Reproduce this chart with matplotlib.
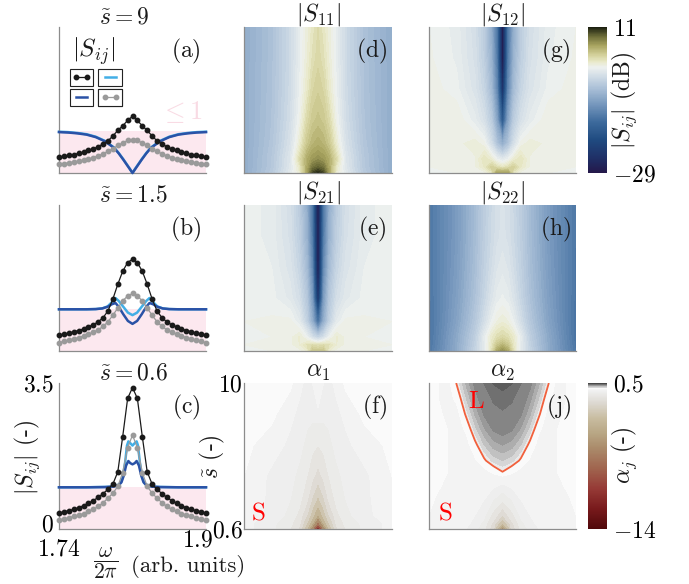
import numpy as np
import matplotlib
matplotlib.use('Agg')
import matplotlib.pyplot as plt
from matplotlib.colors import LinearSegmentedColormap, Normalize
from matplotlib.lines import Line2D
from matplotlib.transforms import ScaledTranslation
import matplotlib.cm as cm

# ---------------- data ----------------
OMEGA_PTS = [1.7400, 1.7453, 1.7507, 1.7560, 1.7613, 1.7667, 1.7720, 1.7773, 1.7827, 1.7880,
             1.7933, 1.7987, 1.8040, 1.8093, 1.8147, 1.8200, 1.8253, 1.8307, 1.8360, 1.8413,
             1.8467, 1.8520, 1.8573, 1.8627, 1.8680, 1.8733, 1.8787, 1.8840, 1.8893, 1.8947, 1.9000]

S11_A = [0.38, 0.40, 0.42, 0.44, 0.47, 0.50, 0.54, 0.58, 0.63, 0.70, 0.77, 0.89, 1.02, 1.13, 1.26, 1.36,
         1.26, 1.13, 1.02, 0.89, 0.77, 0.70, 0.63, 0.58, 0.54, 0.50, 0.47, 0.44, 0.42, 0.40, 0.38]
S22_A = [0.21, 0.225, 0.245, 0.265, 0.285, 0.31, 0.33, 0.37, 0.41, 0.46, 0.52, 0.58, 0.66, 0.72, 0.78, 0.80,
         0.78, 0.72, 0.66, 0.58, 0.52, 0.46, 0.41, 0.37, 0.33, 0.31, 0.285, 0.265, 0.245, 0.225, 0.21]
S11_B = [0.38, 0.40, 0.43, 0.46, 0.49, 0.53, 0.58, 0.63, 0.70, 0.80, 0.96, 1.25, 1.60, 1.91, 2.12, 2.20,
         2.12, 1.91, 1.60, 1.25, 0.96, 0.80, 0.70, 0.63, 0.58, 0.53, 0.49, 0.46, 0.43, 0.40, 0.38]
S22_B = [0.20, 0.23, 0.26, 0.29, 0.32, 0.36, 0.40, 0.45, 0.51, 0.59, 0.70, 0.86, 1.03, 1.20, 1.32, 1.38,
         1.32, 1.20, 1.03, 0.86, 0.70, 0.59, 0.51, 0.45, 0.40, 0.36, 0.32, 0.29, 0.26, 0.23, 0.20]
S11_C = [0.38, 0.41, 0.44, 0.47, 0.51, 0.56, 0.62, 0.68, 0.76, 0.85, 0.95, 1.08, 1.37, 2.21, 3.13, 3.39,
         3.13, 2.21, 1.37, 1.08, 0.95, 0.85, 0.76, 0.68, 0.62, 0.56, 0.51, 0.47, 0.44, 0.41, 0.38]
S22_C = [0.21, 0.24, 0.27, 0.30, 0.33, 0.37, 0.42, 0.47, 0.54, 0.63, 0.74, 0.86, 1.02, 1.35, 1.95, 2.25,
         1.95, 1.35, 1.02, 0.86, 0.74, 0.63, 0.54, 0.47, 0.42, 0.37, 0.33, 0.30, 0.27, 0.24, 0.21]

OMEGA_BLUE_A = [1.74, 1.75, 1.76, 1.77, 1.78, 1.79, 1.80, 1.805, 1.81, 1.815, 1.8175, 1.82,
                1.8225, 1.825, 1.83, 1.835, 1.84, 1.85, 1.86, 1.87, 1.88, 1.89, 1.90]
S21_A = [0.98, 0.97, 0.95, 0.92, 0.86, 0.76, 0.60, 0.47, 0.32, 0.16, 0.08, 0.0,
         0.08, 0.16, 0.32, 0.47, 0.60, 0.76, 0.86, 0.92, 0.95, 0.97, 0.98]
S12_A = [0.99, 0.98, 0.96, 0.93, 0.87, 0.77, 0.61, 0.48, 0.33, 0.17, 0.09, 0.0,
         0.09, 0.17, 0.33, 0.48, 0.61, 0.77, 0.87, 0.93, 0.96, 0.98, 0.99]

OMEGA_BLUE_B = [1.74, 1.755, 1.77, 1.78, 1.787, 1.793, 1.7975, 1.8015, 1.805, 1.81, 1.815, 1.82,
                1.825, 1.83, 1.835, 1.8385, 1.8425, 1.847, 1.853, 1.86, 1.87, 1.885, 1.90]
S21_B = [1.0, 1.0, 1.0, 1.005, 1.02, 1.06, 1.12, 1.15, 1.06, 0.88, 0.72, 0.65,
         0.72, 0.88, 1.06, 1.15, 1.12, 1.06, 1.02, 1.005, 1.0, 1.0, 1.0]
S12_B = [1.0, 1.0, 1.0, 1.005, 1.02, 1.07, 1.17, 1.27, 1.20, 1.06, 0.92, 0.86,
         0.92, 1.06, 1.20, 1.27, 1.17, 1.07, 1.02, 1.005, 1.0, 1.0, 1.0]

OMEGA_S21_C = [1.74, 1.77, 1.79, 1.80, 1.805, 1.808, 1.8105, 1.813, 1.8155, 1.8175, 1.82,
               1.8225, 1.8245, 1.827, 1.8295, 1.832, 1.835, 1.84, 1.85, 1.87, 1.90]
S21_C = [1.0, 1.0, 1.005, 1.02, 1.05, 1.12, 1.28, 1.52, 1.63, 1.58, 1.55,
         1.58, 1.63, 1.52, 1.28, 1.12, 1.05, 1.02, 1.005, 1.0, 1.0]
OMEGA_S12_C = [1.74, 1.77, 1.795, 1.803, 1.807, 1.8095, 1.812, 1.814, 1.8155, 1.8175, 1.82,
               1.8225, 1.8245, 1.826, 1.828, 1.8305, 1.833, 1.837, 1.845, 1.87, 1.90]
S12_C = [1.0, 1.0, 1.01, 1.04, 1.10, 1.25, 1.6, 2.0, 2.1, 2.06, 2.0,
         2.06, 2.1, 2.0, 1.6, 1.25, 1.10, 1.04, 1.01, 1.0, 1.0]

# heat-map grids (dB), rows = s~ values, columns = omega values
OMEGA_MAP = [1.74, 1.77, 1.79, 1.80, 1.808, 1.814, 1.82, 1.826, 1.832, 1.84, 1.85, 1.87, 1.90]
S_MAP = [0.6, 1.0, 1.5, 2.5, 4.0, 6.0, 8.0, 10.0]

S11_DB = [
    [-8.0, -4.7, -1.1, 1.0, 5.6, 9.6, 10.6, 9.6, 5.6, 1.0, -1.1, -4.7, -8.0],
    [-8.0, -5.0, -1.4, 1.5, 5.5, 7.8, 8.6, 7.8, 5.5, 1.5, -1.4, -5.0, -8.0],
    [-8.0, -5.0, -1.5, 2.5, 5.3, 6.4, 6.8, 6.4, 5.3, 2.5, -1.5, -5.0, -8.0],
    [-8.0, -5.3, -2.0, 1.0, 3.8, 4.9, 5.3, 4.9, 3.8, 1.0, -2.0, -5.3, -8.0],
    [-8.0, -5.5, -2.5, 0.0, 2.6, 3.8, 4.2, 3.8, 2.6, 0.0, -2.5, -5.5, -8.0],
    [-8.0, -5.6, -2.8, -0.5, 1.4, 2.9, 3.4, 2.9, 1.4, -0.5, -2.8, -5.6, -8.0],
    [-8.0, -5.7, -2.9, -0.7, 0.9, 2.1, 2.8, 2.1, 0.9, -0.7, -2.9, -5.7, -8.0],
    [-8.0, -5.7, -2.9, -0.7, 0.7, 1.7, 2.5, 1.7, 0.7, -0.7, -2.9, -5.7, -8.0],
]
S12_DB = [
    [0.0, 0.0, 0.05, 0.2, 1.6, 6.0, 6.0, 6.0, 1.6, 0.2, 0.05, 0.0, 0.0],
    [0.0, 0.05, 0.4, 1.5, 3.2, 2.2, 1.6, 2.2, 3.2, 1.5, 0.4, 0.05, 0.0],
    [0.0, 0.1, 0.4, 1.9, 1.0, -0.5, -1.3, -0.5, 1.0, 1.9, 0.4, 0.1, 0.0],
    [0.0, 0.3, 0.8, 0.2, -2.5, -5.5, -8.0, -5.5, -2.5, 0.2, 0.8, 0.3, 0.0],
    [0.1, 0.5, -0.8, -2.2, -4.5, -9.0, -18.0, -9.0, -4.5, -2.2, -0.8, 0.5, 0.1],
    [0.3, -0.3, -1.8, -3.5, -6.5, -12.0, -25.0, -12.0, -6.5, -3.5, -1.8, -0.3, 0.3],
    [0.1, -0.6, -2.2, -4.2, -7.5, -13.5, -29.0, -13.5, -7.5, -4.2, -2.2, -0.6, 0.1],
    [0.0, -0.7, -2.4, -4.4, -8.0, -14.0, -29.0, -14.0, -8.0, -4.4, -2.4, -0.7, 0.0],
]
S21_DB = [
    [0.0, 0.0, 0.05, 0.2, 1.0, 4.0, 3.8, 4.0, 1.0, 0.2, 0.05, 0.0, 0.0],
    [0.0, 0.05, 0.3, 1.0, 2.0, 2.5, 2.0, 2.5, 2.0, 1.0, 0.3, 0.05, 0.0],
    [0.0, 0.0, 0.3, 1.1, -0.4, -2.5, -3.7, -2.5, -0.4, 1.1, 0.3, 0.0, 0.0],
    [0.0, 0.1, 0.2, -1.0, -4.0, -8.0, -15.0, -8.0, -4.0, -1.0, 0.2, 0.1, 0.0],
    [0.0, -0.3, -1.2, -2.5, -5.0, -10.0, -25.0, -10.0, -5.0, -2.5, -1.2, -0.3, 0.0],
    [-0.1, -0.5, -1.8, -3.5, -6.5, -12.0, -29.0, -12.0, -6.5, -3.5, -1.8, -0.5, -0.1],
    [-0.2, -0.7, -2.2, -4.2, -7.5, -13.5, -29.0, -13.5, -7.5, -4.2, -2.2, -0.7, -0.2],
    [-0.2, -0.7, -2.4, -4.4, -8.0, -14.0, -29.0, -14.0, -8.0, -4.4, -2.4, -0.7, -0.2],
]
S22_DB = [
    [-13.6, -8.2, -3.6, -1.1, 1.9, 5.6, 7.0, 5.6, 1.9, -1.1, -3.6, -8.2, -13.6],
    [-13.8, -8.3, -3.9, -1.0, 1.6, 3.8, 4.8, 3.8, 1.6, -1.0, -3.9, -8.3, -13.8],
    [-14.0, -8.4, -4.2, -0.9, 1.3, 2.3, 2.8, 2.3, 1.3, -0.9, -4.2, -8.4, -14.0],
    [-14.0, -9.0, -5.0, -2.5, -0.5, 0.5, 0.9, 0.5, -0.5, -2.5, -5.0, -9.0, -14.0],
    [-13.8, -9.4, -5.7, -3.5, -1.8, -0.8, -0.4, -0.8, -1.8, -3.5, -5.7, -9.4, -13.8],
    [-13.7, -9.7, -6.1, -4.0, -2.6, -1.6, -1.2, -1.6, -2.6, -4.0, -6.1, -9.7, -13.7],
    [-13.6, -9.9, -6.3, -4.3, -3.0, -2.2, -1.8, -2.2, -3.0, -4.3, -6.3, -9.9, -13.6],
    [-13.6, -9.9, -6.4, -4.4, -3.1, -2.3, -1.9, -2.3, -3.1, -4.4, -6.4, -9.9, -13.6],
]
ALPHA1 = [
    [-0.25, -0.4, -0.7, -1.2, -3.0, -6.5, -12.0, -6.5, -3.0, -1.2, -0.7, -0.4, -0.25],
    [-0.25, -0.4, -0.6, -1.0, -2.2, -3.8, -7.0, -3.8, -2.2, -1.0, -0.6, -0.4, -0.25],
    [-0.2, -0.35, -0.5, -0.8, -1.6, -2.6, -4.2, -2.6, -1.6, -0.8, -0.5, -0.35, -0.2],
    [-0.15, -0.35, -0.45, -0.6, -1.0, -1.7, -2.4, -1.7, -1.0, -0.6, -0.45, -0.35, -0.15],
    [-0.1, -0.35, -0.4, -0.5, -0.7, -1.0, -1.3, -1.0, -0.7, -0.5, -0.4, -0.35, -0.1],
    [-0.05, -0.2, -0.35, -0.4, -0.5, -0.6, -0.7, -0.6, -0.5, -0.4, -0.35, -0.2, -0.05],
    [-0.03, -0.05, -0.25, -0.35, -0.4, -0.4, -0.35, -0.4, -0.4, -0.35, -0.25, -0.05, -0.03],
    [-0.03, -0.03, -0.05, -0.25, -0.35, -0.3, -0.1, -0.3, -0.35, -0.25, -0.05, -0.03, -0.03],
]
OMEGA_A2 = [1.74, 1.76, 1.77, 1.78, 1.79, 1.80, 1.81, 1.82, 1.83, 1.84, 1.85, 1.86, 1.87, 1.88, 1.90]
S_A2 = [0.6, 1.0, 1.5, 2.5, 3.5, 4.25, 5.0, 6.0, 7.0, 8.0, 9.0, 10.0]
ALPHA2 = [
    [-0.1, -0.15, -0.2, -0.3, -0.4, -0.6, -1.5, -6.0, -1.5, -0.6, -0.4, -0.3, -0.2, -0.15, -0.1],
    [-0.1, -0.15, -0.2, -0.25, -0.35, -0.5, -1.2, -3.0, -1.2, -0.5, -0.35, -0.25, -0.2, -0.15, -0.1],
    [-0.1, -0.15, -0.2, -0.25, -0.3, -0.4, -0.8, -1.5, -0.8, -0.4, -0.3, -0.25, -0.2, -0.15, -0.1],
    [-0.08, -0.15, -0.18, -0.2, -0.25, -0.3, -0.45, -0.6, -0.45, -0.3, -0.25, -0.2, -0.18, -0.15, -0.08],
    [-0.05, -0.12, -0.15, -0.18, -0.2, -0.2, -0.25, -0.3, -0.25, -0.2, -0.2, -0.18, -0.15, -0.12, -0.05],
    [-0.05, -0.1, -0.15, -0.15, -0.15, -0.15, -0.08, -0.005, -0.08, -0.15, -0.15, -0.15, -0.15, -0.1, -0.05],
    [-0.05, -0.1, -0.15, -0.15, -0.12, -0.018, 0.07, 0.1, 0.07, -0.018, -0.12, -0.15, -0.15, -0.1, -0.05],
    [-0.05, -0.1, -0.15, -0.15, -0.031, 0.097, 0.174, 0.2, 0.174, 0.097, -0.031, -0.15, -0.15, -0.1, -0.05],
    [-0.05, -0.1, -0.15, -0.086, 0.074, 0.189, 0.257, 0.28, 0.257, 0.189, 0.074, -0.086, -0.15, -0.1, -0.05],
    [-0.05, -0.12, -0.15, 0.013, 0.156, 0.258, 0.32, 0.34, 0.32, 0.258, 0.156, 0.013, -0.15, -0.12, -0.05],
    [-0.05, -0.15, -0.073, 0.09, 0.217, 0.307, 0.362, 0.38, 0.362, 0.307, 0.217, 0.09, -0.073, -0.15, -0.05],
    [-0.05, -0.15, 0.007, 0.155, 0.271, 0.354, 0.403, 0.42, 0.403, 0.354, 0.271, 0.155, 0.007, -0.15, -0.05],
]

S_TITLES = [r'$\tilde{s}=9$', r'$\tilde{s}=1.5$', r'$\tilde{s}=0.6$']
DB_RANGE = (-29, 11)
ALPHA_RANGE = (-14, 0.5)

# ---------------- style ----------------
plt.rcParams['mathtext.fontset'] = 'cm'
plt.rcParams['font.family'] = ['DejaVu Serif']
plt.rcParams['axes.unicode_minus'] = False
FS = 17
BLACK = '#1a1a1a'
GRAY = '#9a9a9a'
LBLUE = '#42aee6'
DBLUE = '#2a52a6'
PINK = '#fce8ef'
SPINE = '#8c8c8c'
RM = 'cmr10'

s_cmap = LinearSegmentedColormap.from_list('sdb', [
    ((v - DB_RANGE[0]) / (DB_RANGE[1] - DB_RANGE[0]), c) for v, c in [
        (-29, '#24184a'), (-25, '#1f2f66'), (-20, '#1f4a80'), (-15, '#3d6a9c'),
        (-10, '#7899be'), (-6, '#a8bed6'), (-3, '#cbd8e4'), (0, '#eef1ef'),
        (1.5, '#e9e9c9'), (3.5, '#d2cf98'), (6, '#a8a460'), (8.5, '#6c6c38'), (11, '#1c2010')]])
a_cmap = LinearSegmentedColormap.from_list('alpha', [
    ((v - ALPHA_RANGE[0]) / (ALPHA_RANGE[1] - ALPHA_RANGE[0]), c) for v, c in [
        (-14, '#50080a'), (-12, '#781a1c'), (-10, '#963a36'), (-8, '#a0644e'),
        (-6, '#aa8a6a'), (-4.5, '#b8a684'), (-3, '#c8bca0'), (-1.5, '#dcd8d0'),
        (-0.3, '#efefef'), (0, '#fafafa'), (0.5, '#484848')]])
s_norm = Normalize(*DB_RANGE)
a_norm = Normalize(*ALPHA_RANGE)
S_LEVELS = np.linspace(DB_RANGE[0], DB_RANGE[1], 81)
A_LEVELS = [-14, -12, -10, -8, -6.5, -5, -4, -3, -2.2, -1.6, -1.1, -0.7, -0.45, -0.3, -0.1,
            0, 0.05, 0.1, 0.15, 0.2, 0.25, 0.3, 0.35, 0.4, 0.45, 0.5]

W, H = 689, 584
fig = plt.figure(figsize=(W / 100, H / 100), dpi=100)


def px_axes(x0, y0, x1, y1):
    return fig.add_axes([x0 / W, 1 - y1 / H, (x1 - x0) / W, (y1 - y0) / H])


def style(ax):
    for s in ['top', 'right']:
        ax.spines[s].set_visible(False)
    for s in ['left', 'bottom']:
        ax.spines[s].set_color(SPINE)
        ax.spines[s].set_linewidth(0.9)
    ax.tick_params(length=0, labelsize=FS)
    ax.set_xticks([])
    ax.set_yticks([])


def plabel(ax, t):
    ax.text(0.965, 0.935, r'$\mathrm{(%s)}$' % t, transform=ax.transAxes,
            ha='right', va='top', fontsize=FS, color=BLACK)


def shift(label, dx, dy):
    label.set_transform(label.get_transform() + ScaledTranslation(dx / 100, dy / 100,
                                                                  fig.dpi_scale_trans))


ROWS = [(27, 173), (205, 351), (383, 529)]
left_axes = [px_axes(59, r0, 206, r1) for r0, r1 in ROWS]
mid_axes = [px_axes(244, r0, 392, r1) for r0, r1 in ROWS]
right_axes = [px_axes(429, r0, 576, r1) for r0, r1 in ROWS]

line_data = [
    (S11_A, S22_A, OMEGA_BLUE_A, S12_A, OMEGA_BLUE_A, S21_A),
    (S11_B, S22_B, OMEGA_BLUE_B, S12_B, OMEGA_BLUE_B, S21_B),
    (S11_C, S22_C, OMEGA_S12_C, S12_C, OMEGA_S21_C, S21_C),
]
for ax, (s11, s22, x12, s12, x21, s21), ttl, lab in zip(left_axes, line_data, S_TITLES, 'abc'):
    style(ax)
    ax.axhspan(0, 1, color=PINK, lw=0, zorder=0)
    ax.plot(x12, s12, color=LBLUE, lw=1.8, zorder=2, clip_on=False)
    ax.plot(x21, s21, color=DBLUE, lw=1.8, zorder=3, clip_on=False)
    ax.plot(OMEGA_PTS, s22, color=GRAY, lw=0.9, marker='o', ms=3.2, zorder=4, clip_on=False)
    ax.plot(OMEGA_PTS, s11, color=BLACK, lw=0.9, marker='o', ms=3.2, zorder=5, clip_on=False)
    ax.set_xlim(1.74, 1.9)
    ax.set_ylim(0, 3.5)
    ax.text(0.272, 1 + 4 / 146, ttl, transform=ax.transAxes, ha='left', va='baseline',
            fontsize=FS, color=BLACK)
    plabel(ax, lab)

# legend in (a)
axa = left_axes[0]
axa.text(0.238, 0.836, r'$|S_{ij}|$', transform=axa.transAxes, ha='center', va='center',
         fontsize=FS + 1, color=BLACK)
axa.text(0.83, 0.418, r'$\leq 1$', transform=axa.transAxes, ha='center', va='center',
         fontsize=FS + 2, color='#f9dbe4')
handles = [Line2D([], [], color=BLACK, lw=0.9, marker='o', ms=3.2),
           Line2D([], [], color=LBLUE, lw=1.8),
           Line2D([], [], color=DBLUE, lw=1.8),
           Line2D([], [], color=GRAY, lw=0.9, marker='o', ms=3.2)]
spots = [(0.153, 0.654), (0.350, 0.654), (0.153, 0.517), (0.350, 0.517)]
for h, xy in zip(handles, spots):
    leg = axa.legend(handles=[h], labels=[''], loc='center', bbox_to_anchor=xy,
                     bbox_transform=axa.transAxes, frameon=True, fancybox=False,
                     edgecolor='#222222', framealpha=1, handlelength=1.6, handletextpad=0.0,
                     borderpad=0.35, fontsize=7.5, numpoints=2, borderaxespad=0)
    leg.get_frame().set_linewidth(0.8)
    axa.add_artist(leg)

axc = left_axes[2]
axc.set_yticks([0, 3.5])
axc.set_yticklabels([r'$0$', r'$3.5$'])
axc.set_xticks([1.74, 1.9])
axc.set_xticklabels([r'$1.74$', r'$1.9$'])
axc.tick_params(axis='y', pad=4)
axc.tick_params(axis='x', pad=6)
shift(axc.get_xticklabels()[1], -8, 9)
shift(axc.get_yticklabels()[0], 0, 6)

# heat maps
maps = [(mid_axes[0], S11_DB, r'$|S_{11}|$', 'd'), (mid_axes[1], S21_DB, r'$|S_{21}|$', 'e'),
        (right_axes[0], S12_DB, r'$|S_{12}|$', 'g'), (right_axes[1], S22_DB, r'$|S_{22}|$', 'h')]
for ax, Z, ttl, lab in maps:
    style(ax)
    ax.contourf(OMEGA_MAP, S_MAP, np.array(Z), levels=S_LEVELS, cmap=s_cmap, norm=s_norm,
                extend='both')
    ax.set_xlim(1.74, 1.9)
    ax.set_ylim(0.6, 10)
    ax.text(0.5, 1 + 6 / 146, ttl, transform=ax.transAxes, ha='center', va='baseline',
            fontsize=FS, color=BLACK)
    plabel(ax, lab)

axf = mid_axes[2]
style(axf)
axf.contourf(OMEGA_MAP, S_MAP, np.array(ALPHA1), levels=A_LEVELS, cmap=a_cmap, norm=a_norm,
             extend='both')
axf.set_xlim(1.74, 1.9)
axf.set_ylim(0.6, 10)
axf.set_yticks([0.6, 10])
axf.set_yticklabels([r'$0.6$', r'$10$'])
axf.tick_params(axis='y', pad=1)
axf.text(0.5, 1 + 6 / 146, r'$\alpha_1$', transform=axf.transAxes, ha='center',
         va='baseline', fontsize=FS, color=BLACK)
plabel(axf, 'f')
axf.text(0.095, 0.11, r'$\mathrm{S}$', transform=axf.transAxes, ha='center', va='center',
         fontsize=FS + 1, color='red')

axj = right_axes[2]
style(axj)
axj.contourf(OMEGA_A2, S_A2, np.array(ALPHA2), levels=A_LEVELS, cmap=a_cmap, norm=a_norm,
             extend='both')
axj.contour(OMEGA_A2, S_A2, np.array(ALPHA2), levels=[0.0], colors='#f2603c', linewidths=1.3)
axj.set_xlim(1.74, 1.9)
axj.set_ylim(0.6, 10)
axj.text(0.5, 1 + 6 / 146, r'$\alpha_2$', transform=axj.transAxes, ha='center',
         va='baseline', fontsize=FS, color=BLACK)
plabel(axj, 'j')
axj.text(0.109, 0.11, r'$\mathrm{S}$', transform=axj.transAxes, ha='center', va='center',
         fontsize=FS + 1, color='red')
axj.text(0.32, 0.87, r'$\mathrm{L}$', transform=axj.transAxes, ha='center', va='center',
         fontsize=FS + 1, color='red')

# colorbars
cax1 = px_axes(588, 27, 607, 173)
cb1 = fig.colorbar(cm.ScalarMappable(norm=s_norm, cmap=s_cmap), cax=cax1)
cb1.set_ticks([DB_RANGE[0], DB_RANGE[1]])
cb1.set_ticklabels([r'$-29$', r'$11$'])
cb1.outline.set_visible(False)
cax1.tick_params(length=0, labelsize=FS, pad=4)

cax2 = px_axes(588, 383, 607, 529)
cb2 = fig.colorbar(cm.ScalarMappable(norm=a_norm, cmap=a_cmap), cax=cax2)
cb2.set_ticks([ALPHA_RANGE[0], ALPHA_RANGE[1]])
cb2.set_ticklabels([r'$-14$', r'$0.5$'])
cb2.outline.set_visible(False)
cax2.tick_params(length=0, labelsize=FS, pad=4)

fig.text(624 / W, 1 - 100 / H, r'$|S_{ij}|$ (dB)', rotation=90, ha='center',
         va='center', fontsize=FS, color=BLACK, family=RM)
fig.text(624 / W, 1 - 455 / H, r'$\alpha_j$ (-)', rotation=90, ha='center',
         va='center', fontsize=FS, color=BLACK, family=RM)

# axis labels
fig.text(27 / W, 1 - 457 / H, r'$|S_{ij}|$ (-)', rotation=90, ha='center',
         va='center', fontsize=FS, color=BLACK, family=RM)
fig.text(212 / W, 1 - 457 / H, r'$\tilde{s}$ (-)', rotation=90, ha='center',
         va='center', fontsize=FS, color=BLACK, family=RM)
fig.text(93 / W, 1 - 563 / H, r'$\dfrac{\omega}{2\pi}$', ha='left',
         va='center', fontsize=15.5, color=BLACK)
fig.text(131 / W, 1 - 566 / H, '(arb. units)', ha='left',
         va='center', fontsize=16.5, color=BLACK, family=RM)

fig.savefig('out.png', dpi=100)
